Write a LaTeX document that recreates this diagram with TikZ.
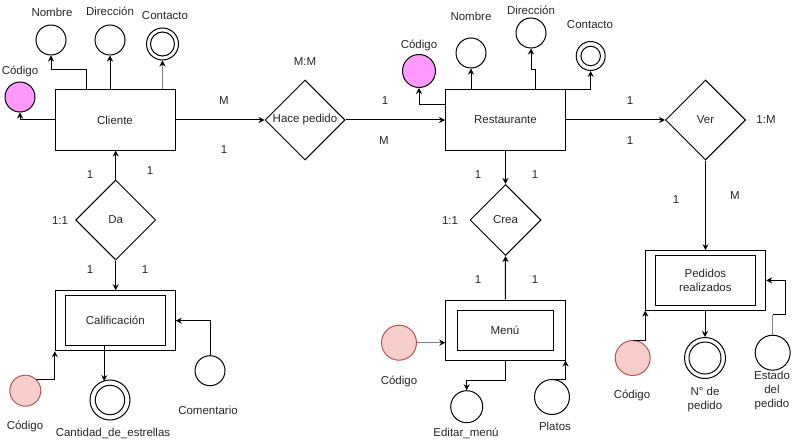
\documentclass[tikz,border=0pt]{standalone}
\usepackage{fontspec}
\setmainfont{Liberation Sans}
\usetikzlibrary{shapes.geometric,arrows.meta,calc}
\definecolor{magentaf}{HTML}{FF99FF}
\definecolor{pinkf}{HTML}{F8CECC}
\definecolor{pinkd}{HTML}{B85450}
\definecolor{txt}{HTML}{262626}
\definecolor{lgray}{HTML}{808080}
\begin{document}
\begin{tikzpicture}[x=1pt,y=-1pt,
  font=\fontsize{11.5}{14}\selectfont,
  every node/.style={text=txt},
  ent/.style={draw, line width=1pt, minimum width=120pt, minimum height=60pt, inner sep=0pt},
  innerbox/.style={draw, line width=1pt, minimum width=100pt, minimum height=50pt, inner sep=0pt, align=center},
  rel/.style={draw, diamond, aspect=1, line width=1pt, minimum width=80pt, minimum height=80pt, inner sep=0pt},
  attr/.style={draw, circle, line width=1pt, minimum size=30pt, inner sep=0pt},
  keyattr/.style={attr, fill=magentaf},
  pkattr/.style={attr, fill=pinkf, draw=pinkd},
  lbl/.style={inner sep=0pt, align=center},
  arr/.style={-{Stealth[length=6pt,width=6pt,color=black]}, line width=1pt},
  ln/.style={line width=1pt}]
\path[use as bounding box] (0,0) rectangle (796,444);

% ---------- Cliente ----------
\node[ent] (cli) at (115,120) {Cliente};
\node[attr] (cnom) at (51,40) {};
\node[lbl] (cnomL) at (52,12) {Nombre};
\node[attr] (cdir) at (110,40) {};
\node[lbl] (cdirL) at (110,11) {Dirección};
\node[attr, minimum size=32pt] (ccon) at (162.5,44) {};
\node[attr, minimum size=24pt] (cconi) at (162.5,44) {};
\node[lbl] (cconL) at (165,16) {Contacto};
\node[keyattr] (ccod) at (20,97) {};
\node[lbl] (ccodL) at (20,71) {Código};

\draw[arr] ([xshift=-29pt]cli.north) -- ++(0,-20) -| (cnom.south);
\draw[arr] (cli.north -| cdir.south) -- (cdir.south);
\draw[arr, draw=lgray] (cli.north -| ccon.south) -- (ccon.south);
\draw[arr] (cli.west) -| (ccod.south);

% ---------- Hace pedido ----------
\node[rel] (hp) at (305,120) {};
\node[lbl] (hpT) at (hp) {Hace pedido};
\draw[arr] (cli.east) -- (hp.west);
\node[lbl] (l1) at (224,101) {M};
\node[lbl] (l2) at (224,150) {1};
\node[lbl] (l3) at (305,62) {M:M};
\node[lbl] (l4) at (385,101) {1};
\node[lbl] (l5) at (384,141) {M};

% ---------- Restaurante ----------
\node[ent] (res) at (505.5,120) {Restaurante};
\draw[arr] (hp.east) -- (res.west);
\node[keyattr, minimum size=33pt] (rcod) at (419,71) {};
\node[lbl] (rcodL) at (419,45) {Código};
\node[attr] (rnom) at (471,53) {};
\node[lbl] (rnomL) at (471,16) {Nombre};
\node[attr] (rdir) at (531,33) {};
\node[lbl] (rdirL) at (531,10) {Dirección};
\node[attr, minimum size=29pt] (rcon) at (590.7,56) {};
\node[attr, minimum size=19.5pt] (rconi) at (590.7,56) {};
\node[lbl] (rconL) at (590,25) {Contacto};

\draw[arr] ([yshift=15pt]res.west) -| (rcod.south);
\draw[arr] (res.north -| rnom.south) -- (rnom.south);
\draw[arr] ([xshift=30pt]res.north) -- ++(0,-20) -| (rdir.south);
\draw[arr] (res.north east) -| (rcon.south);

% ---------- Ver ----------
\node[rel] (ver) at (705.5,120) {};
\node[lbl] (verT) at (ver) {Ver};
\draw[arr] (res.east) -- (ver.west);
\node[lbl] (l6) at (630,101) {1};
\node[lbl] (l7) at (630,141) {1};
\node[lbl] (l8) at (766,120) {1:M};
\node[lbl] (l9) at (735,196) {M};
\node[lbl] (l10) at (676,200) {1};

% ---------- Pedidos realizados ----------
\node[ent, minimum height=59.5pt] (ped) at (705.7,280.4) {};
\node[innerbox, minimum height=49.5pt] (pedi) at (705.4,280.4) {Pedidos\\realizados};
\draw[arr] (ver.south) -- (ver.south |- ped.north);
\node[pkattr, minimum size=35pt] (pcod) at (632.7,358) {};
\node[lbl] (pcodL) at (632,395) {Código};
\node[attr, minimum size=41pt] (pnum) at (705,358) {};
\node[attr, minimum size=32pt] (pnumi) at (705,358) {};
\node[lbl] (pnumL) at (705,400) {N° de\\pedido};
\node[attr, minimum size=35pt] (pest) at (772.7,352.7) {};
\node[lbl] (pestL) at (772,391) {Estado\\del\\pedido};

\draw[arr] (pcod.north) -| (ped.south west);
\draw[arr] (pnum.north |- ped.south) -- (pnum.north);
\coordinate (pestA) at ($(pest.north)+(0,-20)$);
\draw[ln, draw=lgray] (pest.north) -- (pestA);
\draw[arr] (pestA) -- ++(13,0) |- (ped.east);

% ---------- Crea ----------
\node[rel, minimum width=71pt, minimum height=71pt] (crea) at (505.5,220) {};
\node[lbl] (creaT) at (crea) {Crea};
\draw[arr] (res.south) -- (crea.north);
\node[lbl] (l11) at (478,175) {1};
\node[lbl] (l12) at (535,175) {1};
\node[lbl] (l13) at (450,221) {1:1};
\node[lbl] (l14) at (478,280) {1};
\node[lbl] (l15) at (535,280) {1};

% ---------- Menu ----------
\node[ent, minimum width=119.3pt] (menu) at (505.4,330) {};
\node[innerbox, minimum width=96pt, minimum height=40.7pt] (menui) at (505,330.4) {Menú};
\draw[arr] (menu.north) -- (crea.south);
\node[pkattr, minimum size=35pt] (mcod) at (399,342.7) {};
\node[lbl] (mcodL) at (399,381) {Código};
\draw[arr, draw=lgray] (mcod.east) -- (mcod.east -| menu.west);
\node[attr, minimum size=32pt] (medit) at (466.7,406.7) {};
\node[lbl] (meditL) at (466,433) {Editar\_menú};
\draw[arr] (menu.south) -- ++(0,20) -| (medit.north);
\node[attr, minimum size=35pt] (mpla) at (552,397) {};
\node[lbl] (mplaL) at (555,426) {Platos};
\draw[arr] (mpla.north) -| (menu.south east);

% ---------- Da ----------
\node[rel] (da) at (115.7,220) {};
\node[lbl] (daT) at (da) {Da};
\draw[arr] (da.north) -- (da.north |- cli.south);
\node[lbl] (l16) at (90,175) {1};
\node[lbl] (l17) at (150,171) {1};
\node[lbl] (l18) at (60,221) {1:1};
\node[lbl] (l19) at (90,270) {1};
\node[lbl] (l20) at (145,270) {1};

% ---------- Calificacion ----------
\node[ent] (cal) at (115.3,320.7) {};
\node[innerbox] (cali) at (115.3,320.3) {Calificación};
\draw[arr] (da.south) -- (da.south |- cal.north);
\node[pkattr, minimum size=31pt] (kcod) at (25.3,390.7) {};
\node[lbl] (kcodL) at (25,426) {Código};
\draw[arr] (kcod.47) -| (cal.south west);
\node[attr, minimum size=40pt] (cant) at (110,400) {};
\node[attr, minimum size=29.4pt] (canti) at (110,400) {};
\node[lbl] (cantL) at (113,433) {Cantidad\_de\_estrellas};
\draw[arr] ([xshift=-11pt]cali.south) -- ++(0,35.3);
\node[attr] (ccom) at (210,370.7) {};
\node[lbl] (ccomL) at (208,410) {Comentario};
\draw[arr] (ccom.north) |- (cal.east);
\end{tikzpicture}
\end{document}
